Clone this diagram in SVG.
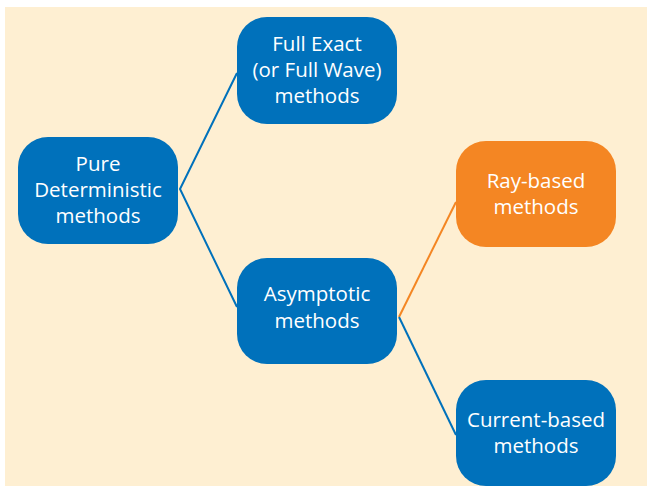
<svg xmlns="http://www.w3.org/2000/svg" width="647" height="486" viewBox="0 0 647 486">
<style>
.node{fill:#0071BB}
.orange{fill:#F48623}
.t{font-family:"Open Sans","Liberation Sans",sans-serif;font-size:20.5px;fill:#ffffff;text-anchor:middle}
.c{fill:none;stroke-width:2}
</style>
<rect x="5" y="7" width="642" height="479" fill="#FEEFD2"/>
<g id="connectors">
<polyline class="c" stroke="#0071BB" points="237,73 180,189 237,307"/>
<line class="c" stroke="#F48623" x1="399" y1="317" x2="456" y2="202"/>
<line class="c" stroke="#0071BB" x1="399" y1="317" x2="456" y2="435"/>
</g>
<g id="pure">
<rect class="node" x="18" y="137" width="160" height="107" rx="30"/>
<text class="t" x="98" y="171">Pure</text>
<text class="t" x="98" y="197">Deterministic</text>
<text class="t" x="98" y="223">methods</text>
</g>
<g id="fullexact">
<rect class="node" x="237" y="17" width="160" height="107" rx="30"/>
<text class="t" x="317" y="51">Full Exact</text>
<text class="t" x="317" y="77">(or Full Wave)</text>
<text class="t" x="317" y="103">methods</text>
</g>
<g id="asymptotic">
<rect class="node" x="237" y="258" width="160" height="106" rx="30"/>
<text class="t" x="317" y="301">Asymptotic</text>
<text class="t" x="317" y="328">methods</text>
</g>
<g id="raybased">
<rect class="orange" x="456" y="141" width="160" height="106" rx="30"/>
<text class="t" x="536" y="188">Ray-based</text>
<text class="t" x="536" y="214">methods</text>
</g>
<g id="currentbased">
<rect class="node" x="456" y="380" width="160" height="106" rx="30"/>
<text class="t" x="536" y="427">Current-based</text>
<text class="t" x="536" y="453">methods</text>
</g>
</svg>
